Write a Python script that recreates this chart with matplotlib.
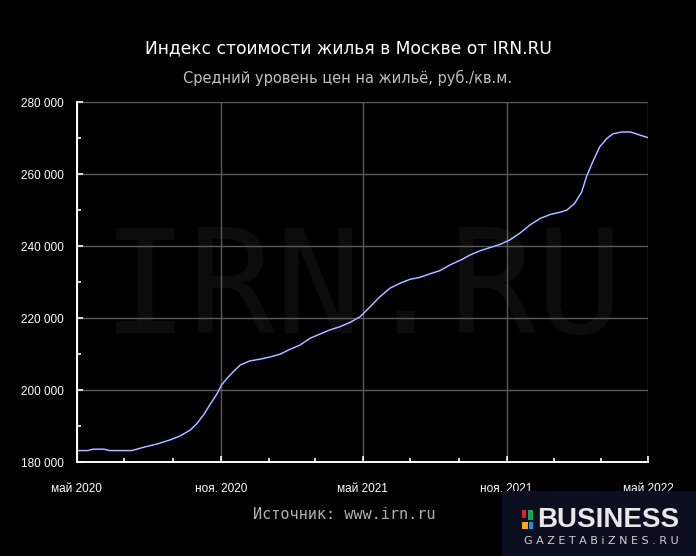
import matplotlib
matplotlib.use('Agg')
import matplotlib.pyplot as plt
import matplotlib.dates as mdates
import matplotlib.ticker as mticker
import pandas as pd

# данные
dates = ['2020-05-01', '2020-05-15', '2020-05-22', '2020-06-05', '2020-06-12', '2020-07-10',
         '2020-07-17', '2020-07-25', '2020-08-11', '2020-08-28', '2020-09-10', '2020-09-23',
         '2020-10-01', '2020-10-10', '2020-10-18', '2020-10-27', '2020-11-02', '2020-11-09',
         '2020-11-17', '2020-11-26', '2020-12-08', '2020-12-21', '2021-01-03', '2021-01-16',
         '2021-01-28', '2021-02-10', '2021-02-23', '2021-03-08', '2021-03-20', '2021-04-02',
         '2021-04-15', '2021-04-28', '2021-05-10', '2021-05-23', '2021-06-05', '2021-06-18',
         '2021-07-01', '2021-07-13', '2021-07-26', '2021-08-08', '2021-08-21', '2021-09-05',
         '2021-09-15', '2021-09-28', '2021-10-11', '2021-10-24', '2021-11-05', '2021-11-18',
         '2021-12-01', '2021-12-14', '2021-12-27', '2022-01-08', '2022-01-17', '2022-01-27',
         '2022-02-05', '2022-02-11', '2022-02-20', '2022-02-28', '2022-03-09', '2022-03-17',
         '2022-03-28', '2022-04-08', '2022-04-18', '2022-05-01']
prices = [183300, 183300, 183700, 183700, 183300, 183300,
          183700, 184200, 185100, 186250, 187360, 189000,
          190700, 193200, 196000, 199000, 201500, 203400,
          205200, 207100, 208200, 208700, 209300, 210100,
          211400, 212600, 214500, 215700, 216800, 217700,
          218900, 220500, 223100, 226000, 228400, 229800,
          230900, 231400, 232400, 233300, 234900, 236400,
          237600, 238800, 239700, 240600, 241800, 243700,
          246000, 247800, 248900, 249500, 250100, 252000,
          255200, 259400, 264000, 267700, 270000, 271300,
          271800, 271800, 271100, 270200]

xtick_dates = ['2020-05-01', '2020-11-01', '2021-05-01', '2021-11-01', '2022-05-01']
xtick_labels = ['май 2020', 'ноя. 2020', 'май 2021', 'ноя. 2021', 'май 2022']
yticks = [180000, 200000, 220000, 240000, 260000, 280000]

title = 'Индекс стоимости жилья в Москве от IRN.RU'
subtitle = 'Средний уровень цен на жильё, руб./кв.м.'
source = 'Источник: www.irn.ru'

x = pd.to_datetime(dates)
xt = pd.to_datetime(xtick_dates)

fig = plt.figure(figsize=(6.96, 5.56), dpi=100, facecolor='black')
ax = fig.add_axes([0.1102, 0.1682, 0.8213, 0.6475], facecolor='black')

# водяной знак
ax.text(0.5, 0.36, 'IRN.RU', transform=ax.transAxes, ha='center', va='baseline',
        fontsize=104, color='#0c0c0c', family='DejaVu Sans Mono', zorder=0)

ax.plot(x, prices, color='#6f7cf5', lw=1.2, zorder=3)
ax.plot(x, prices, color='#eef0ff', lw=0.4, zorder=4)

ax.set_xlim(xt[0], xt[-1])
ax.set_ylim(180000, 280000)
ax.set_xticks(xt)
ax.set_xticklabels(xtick_labels)
ax.xaxis.set_minor_locator(mdates.MonthLocator(bymonth=[1, 3, 7, 9]))
ax.set_yticks(yticks)
ax.yaxis.set_major_formatter(mticker.FuncFormatter(lambda v, p: f'{int(v):,}'.replace(',', ' ')))
ax.yaxis.set_minor_locator(mticker.MultipleLocator(10000))

ax.grid(True, which='major', color='#5a5a5a', lw=1)
for s in ['top', 'right']:
    ax.spines[s].set_visible(False)
for s in ['left', 'bottom']:
    ax.spines[s].set_color('white')
    ax.spines[s].set_linewidth(1.4)
    ax.spines[s].set_zorder(5)

ax.tick_params(which='both', direction='in', colors='white', labelcolor='white',
               labelsize=8.5, width=1.2)
ax.tick_params(which='major', length=4)
ax.tick_params(which='minor', length=3)
ax.tick_params(axis='x', which='major', pad=15)
ax.tick_params(axis='y', which='major', pad=9)
for lab in ax.get_xticklabels() + ax.get_yticklabels():
    lab.set_family('Liberation Sans')

fig.text(0.5, 0.913, title, ha='center', va='center', color='white', fontsize=12.3,
         family='DejaVu Sans')
fig.text(0.5, 0.86, subtitle, ha='center', va='center', color='#c0c0c0', fontsize=10.5,
         family='DejaVu Sans')
fig.text(0.494, 0.074, source, ha='center', va='center', color='#b0b0b0', fontsize=11,
         family='DejaVu Sans Mono')

# логотип
W, H = 696.0, 556.0
fig.patches.append(plt.Rectangle((502 / W, 0), 194 / W, 65 / H, transform=fig.transFigure,
                                 facecolor='#0b0f1f', edgecolor='none'))
sq = [(522, 38, 4, 8, '#e0202a'), (528, 36, 5, 10, '#1aa05a'),
      (522, 27, 6, 7, '#f5a623'), (529, 27, 4, 7, '#1e90e0')]
for sx, sy, sw, sh, c in sq:
    fig.patches.append(plt.Rectangle((sx / W, sy / H), sw / W, sh / H, transform=fig.transFigure,
                                     facecolor=c, edgecolor='none'))
fig.text(537 / W, 36 / H, 'BUSINESS', ha='left', va='center', color='#e8e8e8', fontsize=20,
         fontweight='heavy', family='Liberation Sans')
fig.text(601 / W, 15 / H, 'G A Z E T A B i Z N E S . R U', ha='center', va='center',
         color='#d0d0d0', fontsize=8, family='DejaVu Sans')

fig.savefig('out.png', dpi=100, facecolor='black')
